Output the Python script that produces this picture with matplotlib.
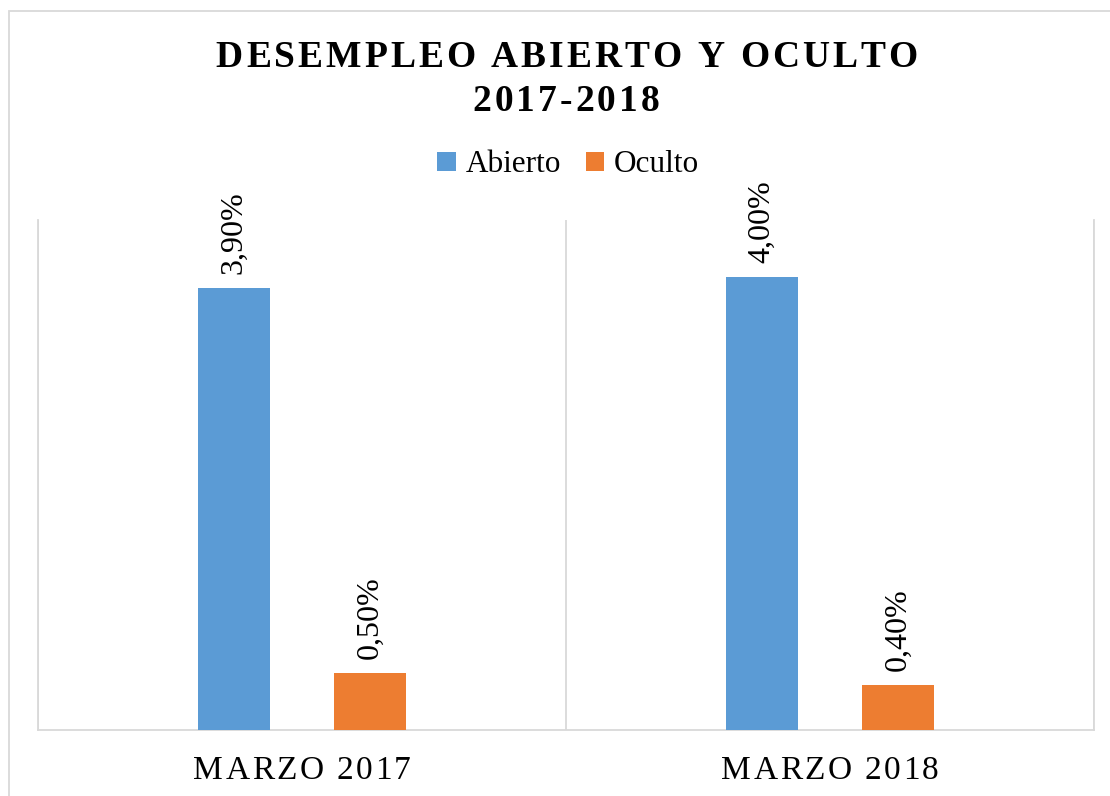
import matplotlib
matplotlib.use("Agg")
import matplotlib.pyplot as plt
from matplotlib.patches import Patch, Rectangle
import numpy as np

# data
categories = ["MARZO 2017", "MARZO 2018"]
series = ["Abierto", "Oculto"]
abierto = [3.90, 4.00]
oculto = [0.50, 0.40]
value_labels = [["3,90%", "4,00%"], ["0,50%", "0,40%"]]
title_lines = ["DESEMPLEO ABIERTO Y OCULTO", "2017-2018"]

W, H = 1110, 796
SERIF = ["Liberation Serif", "DejaVu Serif"]
BLUE = "#5B9BD5"
ORANGE = "#ED7D31"
GRID = "#d9d9d9"

fig = plt.figure(figsize=(W / 100, H / 100), dpi=100)
ax = fig.add_axes([38 / W, 66 / H, (1094 - 38) / W, 510 / H])

# outer chart border
fig.patches.append(Rectangle((9 / W, -0.05), 1.2, 1 - 11.5 / H + 0.05,
                             transform=fig.transFigure, fill=False,
                             edgecolor=GRID, lw=1.3))

x = np.arange(len(categories))
bw = 0.136
off = 0.129
for vals, col, dx, labs in [(abierto, BLUE, -off, value_labels[0]),
                            (oculto, ORANGE, off, value_labels[1])]:
    bars = ax.bar(x + dx, vals, width=bw, color=col, zorder=3)
    for b, lab in zip(bars, labs):
        ax.annotate(lab, (b.get_x() + b.get_width() / 2, b.get_height()),
                    xytext=(0, 14), textcoords="offset pixels",
                    rotation=90, ha="center", va="bottom",
                    fontsize=23, family=SERIF, color="black")

ax.set_xlim(-0.5, 1.5)
ax.set_ylim(0, 4.5)
ax.set_yticks([])
ax.set_xticks([])
ax.set_xticks([-0.5, 0.5, 1.5], minor=True)
ax.tick_params(which="both", length=0)
ax.grid(which="minor", axis="x", color=GRID, lw=1.3, zorder=0)
for s in ["left", "right", "bottom"]:
    ax.spines[s].set_color(GRID)
    ax.spines[s].set_linewidth(1.3)
ax.spines["top"].set_visible(False)


def spaced(xc_px, base_px, s, gap, size, weight="normal"):
    # Excel-style letter spacing: draw char by char
    r = fig.canvas.get_renderer()

    def wid(t):
        tx = fig.text(0, 0, t, fontsize=size, family=SERIF, weight=weight)
        w = tx.get_window_extent(r).width
        tx.remove()
        return w

    ref = wid("xx")
    widths = [wid("x" + ch + "x") - ref for ch in s]
    total = sum(widths) + gap * (len(s) - 1)
    xp = xc_px - total / 2
    for ch, w in zip(s, widths):
        fig.text(xp / W, 1 - base_px / H, ch, fontsize=size, family=SERIF,
                 weight=weight, ha="left", va="baseline")
        xp += w + gap


spaced(566.5, 67, title_lines[0], 3.0, 27, "bold")
spaced(566, 111, title_lines[1], 3.0, 27, "bold")

for xi, cat in zip(x, categories):
    px = ax.transData.transform((xi, 0))[0]
    spaced(px, 779, cat, 2.4, 24)

handles = [Patch(facecolor=BLUE), Patch(facecolor=ORANGE)]
fig.legend(handles, series, loc="center", bbox_to_anchor=(568 / W, 1 - 165 / H),
           ncol=2, frameon=False, handlelength=0.6, handleheight=0.6,
           handletextpad=0.3, columnspacing=0.8,
           prop={"family": SERIF, "size": 22.5})

fig.savefig("out.png", dpi=100)
